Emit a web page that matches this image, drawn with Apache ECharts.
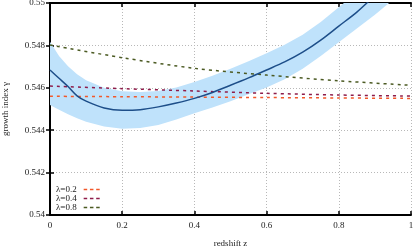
<!DOCTYPE html>
<html>
<head>
<meta charset="utf-8">
<script src="https://cdn.jsdelivr.net/npm/echarts@6/dist/echarts.min.js"></script>
<style>html,body{margin:0;padding:0;background:#fff}#c{width:415px;height:248px}</style>
</head>
<body>
<div id="c"></div>
<script>
// redshift grid for the fitted growth index curve and its band
const zBand = [0,0.025,0.05,0.075,0.1,0.15,0.2,0.25,0.3,0.35,0.4,0.45,0.5,0.55,0.6,0.65,0.7,0.75,0.8,0.85,0.9,0.95,1.0];
const gammaMid = [0.54684,0.54645,0.54606,0.54562,0.54537,0.54505,0.54494,0.54497,0.54510,0.54528,0.54550,0.54578,0.54612,0.54647,0.54684,0.54722,0.54768,0.54825,0.54891,0.54957,0.55035,0.5511,0.5519];
const gammaHigh = [0.54817,0.5475,0.54702,0.54664,0.54636,0.54600,0.54584,0.5458,0.54585,0.54602,0.54627,0.54657,0.5469,0.54725,0.54763,0.54803,0.5485,0.5491,0.5498,0.5505,0.5512,0.552,0.5528];
const gammaLow = [0.54519,0.54496,0.54475,0.54456,0.5444,0.54417,0.54407,0.5441,0.54425,0.5445,0.5448,0.54507,0.54537,0.54569,0.54602,0.5464,0.5469,0.5475,0.54815,0.5488,0.54945,0.55015,0.5509];
// lambda model curves
const zLam = [0,0.2,0.4,0.6,0.8,1.0];
const lam02 = [0.5456,0.54558,0.54556,0.54554,0.54552,0.5455];
const lam04 = [0.54608,0.54596,0.54585,0.54574,0.54566,0.54561];
const lam08 = [0.54802,0.54742,0.54692,0.5466,0.54633,0.54612];
const lamNames = ['λ=0.2','λ=0.4','λ=0.8'];
// tick labels
const xTickLabels = ['0','0.2','0.4','0.6','0.8','1'];
const yTickLabels = ['0.54','0.542','0.544','0.546','0.548','0.55'];

const pairs = (xs, ys) => xs.map((x, i) => [x, ys[i]]);

const FONT = 'Liberation Serif';
const chart = echarts.init(document.getElementById('c'), null, {renderer: 'canvas'});
const frame = {show: true, lineStyle: {color: '#000', width: 2}};
const ticks = {show: true, inside: true, length: 4, lineStyle: {color: '#000', width: 1.5}};
const grid = {show: true, lineStyle: {color: '#b8b8b8', width: 1, type: [1, 2]}};

function renderBand(params, api) {
  if (params.dataIndex !== 0) return null;
  const pts = [];
  for (let i = 0; i < zBand.length; i++) pts.push(api.coord([zBand[i], gammaHigh[i]]));
  for (let i = zBand.length - 1; i >= 0; i--) pts.push(api.coord([zBand[i], gammaLow[i]]));
  return {
    type: 'polygon',
    shape: {points: pts},
    style: {fill: '#bfe2fb', stroke: null},
    silent: true
  };
}

chart.setOption({
  animation: false,
  backgroundColor: '#fff',
  grid: {left: 50, right: 4, top: 3, bottom: 33, containLabel: false, outerBoundsMode: 'none'},
  legend: {
    orient: 'vertical', left: 56, top: 185, align: 'right',
    itemWidth: 16, itemHeight: 7, itemGap: 0, padding: 0,
    data: lamNames,
    itemStyle: {opacity: 0},
    lineStyle: {width: 1.5, type: [3.5, 2.75]},
    textStyle: {fontFamily: FONT, fontSize: 9, color: '#222', padding: [0, 2, 0, 0]}
  },
  xAxis: [{
    type: 'value', min: 0, max: 1, interval: 0.2,
    name: 'redshift z', nameLocation: 'middle', nameGap: 24,
    nameTextStyle: {fontFamily: FONT, fontSize: 9, color: '#222'},
    axisLine: frame, axisTick: ticks, splitLine: grid,
    axisLabel: {fontFamily: FONT, fontSize: 9, color: '#222', margin: 6,
      formatter: (v, i) => xTickLabels[i]}
  }, {
    type: 'value', min: 0, max: 1, interval: 0.2, position: 'top',
    axisLine: frame, axisTick: ticks, splitLine: {show: false}, axisLabel: {show: false}
  }],
  yAxis: [{
    type: 'value', min: 0.54, max: 0.55, interval: 0.002,
    name: 'growth index γ', nameLocation: 'middle', nameGap: 40,
    nameTextStyle: {fontFamily: FONT, fontSize: 9, color: '#222'},
    axisLine: frame, axisTick: ticks, splitLine: grid,
    axisLabel: {fontFamily: FONT, fontSize: 9, color: '#222', margin: 5,
      formatter: (v, i) => yTickLabels[i]}
  }, {
    type: 'value', min: 0.54, max: 0.55, interval: 0.002, position: 'right',
    axisLine: frame, axisTick: ticks, splitLine: {show: false}, axisLabel: {show: false}
  }],
  series: [
    {name: 'band', type: 'custom', data: [[0]], renderItem: renderBand, clip: true, silent: true, z: 1},
    {name: lamNames[0], type: 'line', data: pairs(zLam, lam02), symbol: 'none', smooth: 0.3,
     color: '#f2582a', lineStyle: {color: '#f2582a', width: 1.5, type: [3, 4]}, z: 3},
    {name: lamNames[1], type: 'line', data: pairs(zLam, lam04), symbol: 'none', smooth: 0.3,
     color: '#8e1c4a', lineStyle: {color: '#8e1c4a', width: 1.5, type: [3, 4]}, z: 3},
    {name: lamNames[2], type: 'line', data: pairs(zLam, lam08), symbol: 'none', smooth: 0.3,
     color: '#4b5a22', lineStyle: {color: '#4b5a22', width: 1.5, type: [3, 4]}, z: 3},
    {name: 'gamma', type: 'line', data: pairs(zBand, gammaMid), symbol: 'none', smooth: 0.3,
     color: '#1d4e89', lineStyle: {color: '#1d4e89', width: 1.5}, z: 4}
  ]
});
</script>
</body>
</html>
